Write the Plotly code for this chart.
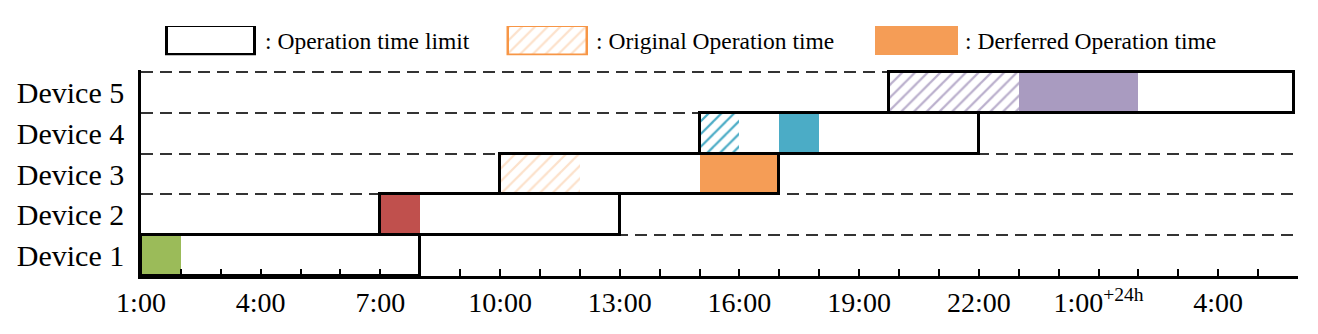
import plotly.graph_objects as go

# devices (bottom to top) and their operation time limits, in hours from 1:00
devices = ["Device 1", "Device 2", "Device 3", "Device 4", "Device 5"]
limit_start = [1, 7, 10, 15, 19.75]
limit_end = [8, 13, 17, 22, 29.9]

# original operation time (hatched)
orig_devices = ["Device 3", "Device 4", "Device 5"]
orig_start = [10, 15, 19.75]
orig_end = [12, 16, 23]

# deferred / actual operation time (solid)
run_start = [1, 7, 15, 17, 23]
run_end = [2, 8, 17, 18, 26]

# x axis tick labels
tick_hours = [1, 4, 7, 10, 13, 16, 19, 22, 25, 28]
tick_text = ["1:00", "4:00", "7:00", "10:00", "13:00", "16:00", "19:00", "22:00",
             "1:00<sup>+24h</sup>", "4:00"]

# legend entries
legend_text = [": Operation time limit", ": Original Operation time", ": Derferred Operation time"]

solid_colors = ["#9BBB59", "#C0504D", "#F59D56", "#4BACC6", "#A99BC0"]
hatch_colors = ["#FAC9A0", "#4BACC6", "#A99BC0"]
hatch_opacity = [0.55, 1.0, 0.8]

FONT = "Liberation Serif"
row = {d: i + 0.5 for i, d in enumerate(devices)}

fig = go.Figure()

# hatched original operation time
for d, s, e, c, op in zip(orig_devices, orig_start, orig_end, hatch_colors, hatch_opacity):
    fig.add_trace(go.Bar(
        y=[row[d]], x=[e - s], base=[s], orientation="h", width=1,
        marker=dict(color="white", line=dict(width=0),
                    pattern=dict(shape="/", fgcolor=c, bgcolor="white", size=9,
                                 solidity=0.25, fgopacity=op)),
        showlegend=False, hoverinfo="skip"))

# solid operation time
for d, s, e, c in zip(devices, run_start, run_end, solid_colors):
    fig.add_trace(go.Bar(
        y=[row[d]], x=[e - s], base=[s], orientation="h", width=1,
        marker=dict(color=c, line=dict(width=0)),
        showlegend=False, hoverinfo="skip"))

# operation time limit boxes (outline on top)
fig.add_trace(go.Bar(
    y=[row[d] for d in devices],
    x=[e - s for s, e in zip(limit_start, limit_end)],
    base=limit_start, orientation="h", width=1,
    marker=dict(color="rgba(0,0,0,0)", line=dict(color="black", width=3)),
    showlegend=False, hoverinfo="skip"))

# legend drawn on a small overlay axis (pixel-like units)
leg_x = [166.5, 508, 875]
leg_w = [88, 79, 83]
leg_gap = [8, 7, 5]
fig.add_trace(go.Bar(
    y=[0.5], x=[leg_w[0]], base=[leg_x[0]], orientation="h", width=1,
    marker=dict(color="white", line=dict(color="black", width=3)),
    xaxis="x2", yaxis="y2", showlegend=False, hoverinfo="skip"))
fig.add_trace(go.Bar(
    y=[0.5], x=[leg_w[1]], base=[leg_x[1]], orientation="h", width=1,
    marker=dict(color="white", line=dict(color="#F79646", width=2.5),
                pattern=dict(shape="/", fgcolor="#FAC9A0", bgcolor="white", size=9,
                             solidity=0.25, fgopacity=0.55)),
    xaxis="x2", yaxis="y2", showlegend=False, hoverinfo="skip"))
fig.add_trace(go.Bar(
    y=[0.5], x=[leg_w[2]], base=[leg_x[2]], orientation="h", width=1,
    marker=dict(color="#F59D56", line=dict(width=0)),
    xaxis="x2", yaxis="y2", showlegend=False, hoverinfo="skip"))

for lx, lw, gap, txt in zip(leg_x, leg_w, leg_gap, legend_text):
    fig.add_annotation(x=lx + lw + gap, y=0.5, xref="x2", yref="y2", text=txt,
                       showarrow=False, xanchor="left", yanchor="middle",
                       font=dict(family=FONT, size=23.5, color="black"))

fig.update_layout(
    width=1318, height=334,
    margin=dict(l=141, r=20, t=10, b=58, autoexpand=False),
    plot_bgcolor="white", paper_bgcolor="white",
    barmode="overlay", bargap=0,
    font=dict(family=FONT, size=28, color="black"),
    xaxis=dict(range=[1, 30], tickvals=tick_hours, ticktext=tick_text,
               ticks="inside", ticklen=7, tickwidth=2, tickcolor="black",
               showline=True, linewidth=2.5, linecolor="black",
               showgrid=False, zeroline=False, automargin=False,
               minor=dict(tick0=1, dtick=1, ticks="inside", ticklen=7,
                          tickwidth=2, tickcolor="black", showgrid=False),
               tickfont=dict(family=FONT, size=28)),
    yaxis=dict(range=[0, 5.05], domain=[0, 0.7744],
               tickvals=[row[d] for d in devices], ticktext=devices,
               ticks="", showline=True, linewidth=2.5, linecolor="black",
               showgrid=False, zeroline=False, ticklabelstandoff=8,
               automargin=False,
               minor=dict(tick0=0, dtick=1, ticks="", showgrid=True,
                          griddash="12px,7px", gridcolor="#333333", gridwidth=1.5),
               tickfont=dict(family=FONT, size=30)),
    xaxis2=dict(domain=[0, 1], range=[141, 1298], anchor="y2", visible=False),
    yaxis2=dict(domain=[0.83, 0.94], range=[0, 1], anchor="x2", visible=False),
)

# drop the default page margin so the figure sits at the window's corner
fig.write_html("out.html", config={"displayModeBar": False},
               post_script="document.body.style.margin='0';")
